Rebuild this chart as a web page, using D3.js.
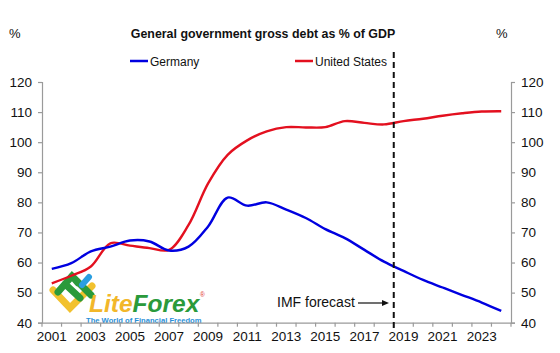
<!DOCTYPE html>
<html>
<head>
<meta charset="utf-8">
<script src="https://cdn.jsdelivr.net/npm/d3@7"></script>
<style>
  body { margin: 0; background: #fff; }
  svg { font-family: "Liberation Sans", Arial, sans-serif; }
</style>
</head>
<body>
<svg id="chart" width="560" height="353"></svg>
<script>
'use strict';
// years on the category axis
const years = d3.range(2001, 2025);
const yearLabels = ['2001', '2003', '2005', '2007', '2009', '2011', '2013', '2015', '2017', '2019', '2021', '2023'];
const germany = [57.9, 59.8, 63.7, 65.3, 67.3, 67.0, 64.0, 65.3, 72.0, 81.6, 78.9, 80.0,
  77.6, 74.8, 71.1, 68.1, 64.2, 60.3, 57.2, 54.2, 51.7, 49.2, 46.7, 43.9];
const usa = [53.1, 55.6, 58.7, 66.4, 65.6, 64.8, 64.2, 72.5, 86.3, 95.8, 100.6, 103.6,
  105.0, 104.9, 105.0, 107.0, 106.4, 105.9, 107.0, 107.8, 108.8, 109.6, 110.2, 110.3];
const yTicks = [40, 50, 60, 70, 80, 90, 100, 110, 120];
const forecastStart = 2019;

const svg = d3.select('#chart');
const mLeft = 42, mRight = 511, mTop = 82, mBottom = 322.7;

const x = d3.scaleBand().domain(years).range([mLeft, mRight]);
const y = d3.scaleLinear().domain([40, 120]).range([mBottom, mTop]);
const cx = d => x(d) + x.bandwidth() / 2;

// title + % signs
svg.append('text').attr('x', 263).attr('y', 38).attr('text-anchor', 'middle')
  .attr('font-size', 12.4).attr('font-weight', 'bold').attr('fill', '#111')
  .text('General government gross debt as % of GDP');
svg.append('text').attr('x', 9).attr('y', 38).attr('font-size', 13).attr('fill', '#111').text('%');
svg.append('text').attr('x', 496).attr('y', 38).attr('font-size', 13).attr('fill', '#111').text('%');

// legend
const legend = [{name: 'Germany', color: '#0000e0', x: 130}, {name: 'United States', color: '#e3101f', x: 295}];
legend.forEach(function(l) {
  svg.append('line').attr('x1', l.x).attr('x2', l.x + 18).attr('y1', 61).attr('y2', 61)
    .attr('stroke', l.color).attr('stroke-width', 2.5);
  svg.append('text').attr('x', l.x + 20).attr('y', 66).attr('font-size', 12).attr('fill', '#111').text(l.name);
});

// watermark
const logo = svg.append('g').attr('class', 'logo');
logo.append('path').attr('d', 'M53,290 L70,308 L92,286').attr('fill', 'none')
  .attr('stroke', '#f2c12e').attr('stroke-width', 7).attr('stroke-linecap', 'round');
logo.append('path').attr('d', 'M58,292 L72,276 L91,295 M65,284 L80,298 M72,276 L78,283').attr('fill', 'none')
  .attr('stroke', '#2a9a3b').attr('stroke-width', 7).attr('stroke-linecap', 'round');
logo.append('path').attr('d', 'M82,285 L89,277').attr('fill', 'none')
  .attr('stroke', '#2a9ee0').attr('stroke-width', 6).attr('stroke-linecap', 'round');
const lt = logo.append('text').attr('x', 89).attr('y', 312).attr('font-size', 24.5)
  .attr('font-weight', 'bold').attr('font-style', 'italic');
lt.append('tspan').attr('fill', '#f2b72a').text('Lite');
lt.append('tspan').attr('fill', '#2a9a3b').text('Forex');
logo.append('text').attr('x', 200).attr('y', 297).attr('font-size', 6.5).attr('fill', '#e03030').text('®');
logo.append('text').attr('x', 86).attr('y', 322.5).attr('font-size', 7.6).attr('font-weight', 'bold')
  .attr('fill', '#2a8fd8').text('The World of Financial Freedom');

// axes
const axisColor = '#9a9a9a';
const yl = svg.append('g').attr('transform', `translate(${mLeft},0)`)
  .call(d3.axisLeft(y).tickValues(yTicks).tickSize(4).tickPadding(6));
const yr = svg.append('g').attr('transform', `translate(${mRight},0)`)
  .call(d3.axisRight(y).tickValues(yTicks).tickSize(4).tickPadding(6));
const xb = svg.append('g').attr('transform', `translate(0,${mBottom})`)
  .call(d3.axisBottom(x).tickSize(0).tickPadding(9)
    .tickFormat(d => yearLabels.includes(String(d)) ? d : ''));
[yl, yr, xb].forEach(function(g) {
  g.select('.domain').attr('stroke', axisColor).attr('stroke-width', 1.2);
  g.selectAll('.tick line').attr('stroke', axisColor).attr('stroke-width', 1.2);
  g.selectAll('.tick text').attr('font-size', 13.5).attr('fill', '#111')
    .attr('font-family', '"Liberation Sans", Arial, sans-serif');
});
// category boundary ticks on the x axis
svg.append('g').selectAll('line').data(years.concat([2025])).enter().append('line')
  .attr('x1', d => d === 2025 ? mRight : x(d)).attr('x2', d => d === 2025 ? mRight : x(d))
  .attr('y1', mBottom).attr('y2', mBottom + 4)
  .attr('stroke', axisColor).attr('stroke-width', 1.2);

// series
const line = d3.line().x((d, i) => cx(years[i])).y(d => y(d)).curve(d3.curveCatmullRom.alpha(0.5));
svg.append('path').datum(usa).attr('d', line).attr('fill', 'none')
  .attr('stroke', '#e3101f').attr('stroke-width', 2.4);
svg.append('path').datum(germany).attr('d', line).attr('fill', 'none')
  .attr('stroke', '#0000e0').attr('stroke-width', 2.4);

// forecast marker
const fx = x(forecastStart);
svg.append('line').attr('x1', fx).attr('x2', fx).attr('y1', 52).attr('y2', mBottom + 6)
  .attr('stroke', '#111').attr('stroke-width', 2).attr('stroke-dasharray', '6,4');
svg.append('text').attr('x', 277).attr('y', 307).attr('font-size', 14).attr('fill', '#111').text('IMF forecast');
svg.append('line').attr('x1', 358).attr('x2', 384).attr('y1', 303).attr('y2', 303)
  .attr('stroke', '#111').attr('stroke-width', 1.2);
svg.append('path').attr('d', 'M389,303 L382,300 L382,306 Z').attr('fill', '#111');
</script>
</body>
</html>
